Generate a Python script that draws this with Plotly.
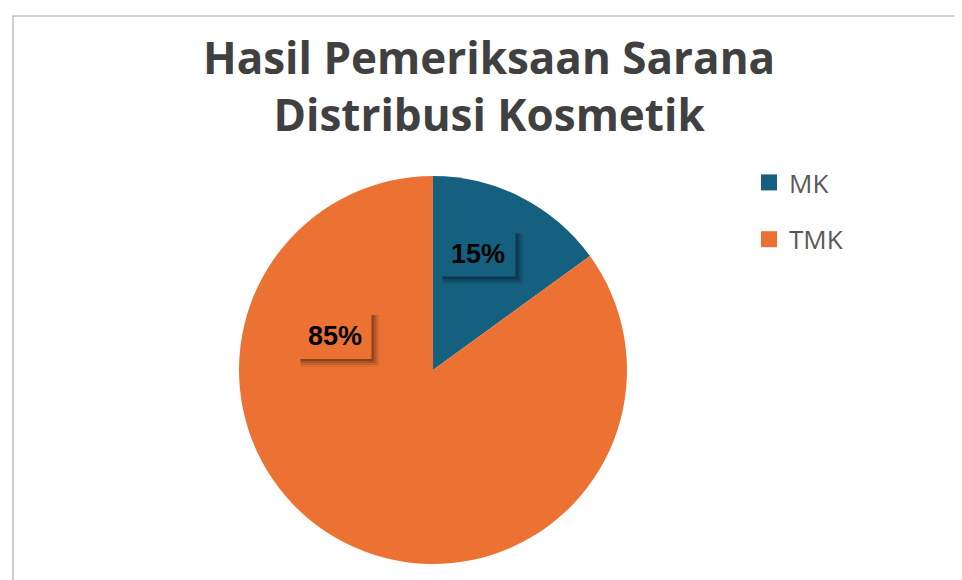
import plotly.graph_objects as go

categories = ["MK", "TMK"]
values = [15, 85]
colors = ["#15607F", "#EC7234"]
title_lines = ["Hasil Pemeriksaan Sarana", "Distribusi Kosmetik"]

W, H = 962, 580
total = sum(values)
pct = [f"{round(v / total * 100)}%" for v in values]

fig = go.Figure()
fig.add_trace(go.Pie(
    labels=categories,
    values=values,
    sort=False,
    direction="clockwise",
    rotation=0,
    marker=dict(colors=colors, line=dict(width=0)),
    textinfo="none",
    hoverinfo="label+percent",
    showlegend=False,
    domain=dict(x=[231 / W, 619 / W], y=[1 - 556 / H, 1 - 168 / H]),
))

# legend entries (one per category)
for cat, col in zip(categories, colors):
    fig.add_trace(go.Scatter(
        x=[None], y=[None], mode="markers", name=cat, legendgroup=cat,
        marker=dict(symbol="square", size=18, color=col),
        hoverinfo="skip",
    ))

# data label boxes (layout only): centre x, centre y, width, height in px
label_box = [(470, 246, 75, 45), (327, 328, 73, 46)]
for (cx, cy, bw, bh), txt, col in zip(label_box, pct, colors):
    for k, grow, a in [(5, 3, 0.06), (4, 2, 0.10), (3, 1, 0.14), (2, 0, 0.18)]:
        fig.add_shape(type="rect", xref="paper", yref="paper",
                      x0=(cx - bw / 2 + k - grow) / W, x1=(cx + bw / 2 + k + grow) / W,
                      y0=1 - (cy + bh / 2 + k + grow) / H, y1=1 - (cy - bh / 2 + k - grow) / H,
                      fillcolor=f"rgba(0,0,0,{a})", line=dict(width=0), layer="above")
    fig.add_shape(type="rect", xref="paper", yref="paper",
                  x0=(cx - bw / 2) / W, x1=(cx + bw / 2) / W,
                  y0=1 - (cy + bh / 2) / H, y1=1 - (cy - bh / 2) / H,
                  fillcolor=col, line=dict(width=0), layer="above")
    fig.add_annotation(x=cx / W, y=1 - cy / H, xref="paper", yref="paper",
                       text=f"<b>{txt}</b>", showarrow=False,
                       xanchor="center", yanchor="middle",
                       font=dict(family="Liberation Sans, Arial", size=27, color="#000000"))

# title
fig.add_annotation(x=481 / W, y=1 - 78 / H, xref="paper", yref="paper",
                   text="<b>" + "<br>".join(title_lines) + "</b>", showarrow=False,
                   xanchor="center", yanchor="middle", align="center",
                   font=dict(family="Open Sans", size=44, color="#404040"))

fig.add_shape(type="rect", xref="paper", yref="paper",
              x0=5 / W, x1=1.02, y0=-0.02, y1=1 - 8 / H,
              line=dict(color="#BFBFBF", width=1.5), layer="below")

fig.update_layout(
    width=W, height=H,
    margin=dict(l=0, r=0, t=0, b=0),
    paper_bgcolor="#FFFFFF",
    plot_bgcolor="rgba(0,0,0,0)",
    xaxis=dict(visible=False),
    yaxis=dict(visible=False),
    legend=dict(
        x=741 / W, y=1 - 151 / H, xanchor="left", yanchor="top",
        font=dict(family="Open Sans", size=26, color="#595959"),
        tracegroupgap=20, bgcolor="rgba(0,0,0,0)",
    ),
    showlegend=True,
)

fig.write_html("out.html")
